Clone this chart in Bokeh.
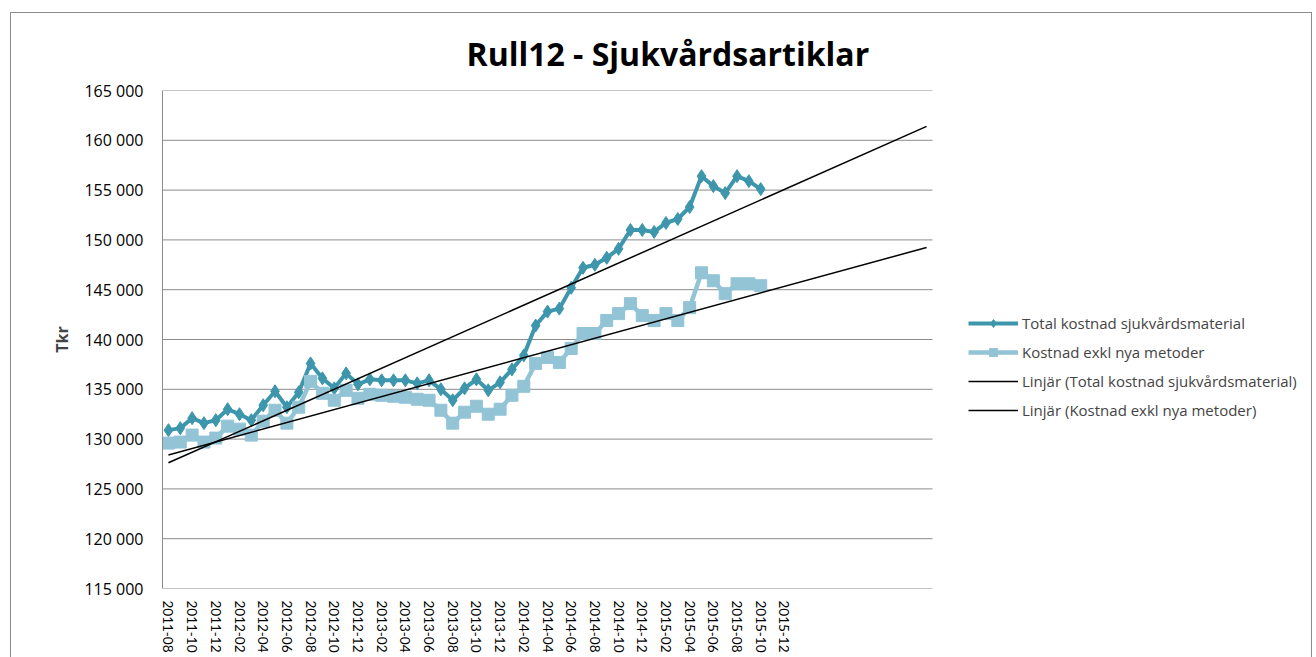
import numpy as np
from bokeh.plotting import figure
from bokeh.models import Range1d, FixedTicker, Legend, LegendItem, Title
from bokeh.embed import file_html
from bokeh.resources import INLINE

# ---- categories (monthly, axis runs to 2016-12; labels shown through 2015-12) ----
months = []
_y, _m = 2011, 8
for _ in range(65):
    months.append(f"{_y}-{_m:02d}")
    _m += 1
    if _m > 12:
        _m = 1
        _y += 1

# ---- series values (Tkr), 2011-08 .. 2015-10 ----
total = [130900, 131100, 132100, 131600, 131900, 133000, 132500, 131900, 133400, 134800,
         133200, 134700, 137600, 136100, 135100, 136600, 135500, 136000, 135900, 135900,
         135900, 135600, 135900, 135000, 133900, 135100, 136000, 134900, 135700, 137000,
         138400, 141400, 142800, 143100, 145200, 147200, 147500, 148200, 149100, 151000,
         151000, 150800, 151700, 152100, 153300, 156400, 155400, 154700, 156400, 155900,
         155100]
exkl = [129600, 129700, 130400, 129700, 130100, 131300, 131000, 130400, 131800, 132900,
        131600, 133200, 135800, 134600, 133900, 134900, 134100, 134500, 134400, 134300,
        134200, 134000, 133900, 132900, 131600, 132700, 133300, 132500, 133000, 134400,
        135300, 137600, 138200, 137700, 139100, 140600, 140600, 141900, 142600, 143600,
        142400, 141900, 142600, 141900, 143200, 146700, 145900, 144600, 145600, 145600,
        145400]

series_names = ["Total kostnad sjukvårdsmaterial", "Kostnad exkl nya metoder"]
y_ticks = list(range(115000, 165001, 5000))
forecast_forward = 14  # trendline extended forward (periods)

TEAL = "#3D96AC"
LIGHT = "#92C4D6"
GRID = "#8C8C8C"
FONT = "Open Sans"

# layout: plot area (axis part) is 770 px wide for the 65 categories; the frame
# continues to the right to host the legend
W, H = 1302, 646
LEFT, RIGHT, TOP, BOTTOM = 151, 2, 77, 71
AXIS_W = 770
frame_w = W - LEFT - RIGHT
n_cat = len(months)
x_end = -0.5 + n_cat * frame_w / AXIS_W

x = np.arange(len(total))

p = figure(width=W, height=H,
           x_range=Range1d(-0.5, x_end),
           y_range=Range1d(y_ticks[0], y_ticks[-1]),
           output_backend="svg", toolbar_location=None, title=None,
           min_border_left=LEFT, min_border_right=RIGHT,
           min_border_top=TOP, min_border_bottom=BOTTOM)
p.styles = {"border": "1px solid #8C8C8C", "margin-left": "10px", "margin-top": "12px"}
p.outline_line_color = None
p.xgrid.visible = False
p.ygrid.visible = False

# horizontal gridlines, only across the category area
p.segment(x0=-0.5, x1=n_cat - 0.5, y0=y_ticks, y1=y_ticks,
          line_color=GRID, line_width=1)

# y axis
p.yaxis.ticker = FixedTicker(ticks=y_ticks)
p.yaxis.major_label_overrides = {t: f"{t:,}".replace(",", " ") for t in y_ticks}
p.yaxis.major_tick_line_color = None
p.yaxis.minor_tick_line_color = None
p.yaxis.axis_line_color = GRID
p.yaxis.major_label_text_font = FONT
p.yaxis.major_label_text_font_size = "16px"
p.yaxis.major_label_text_color = "#000000"
p.yaxis.major_label_standoff = 13
p.yaxis.axis_label = "Tkr"
p.yaxis.axis_label_text_font = FONT
p.yaxis.axis_label_text_font_style = "bold"
p.yaxis.axis_label_text_font_size = "16px"
p.yaxis.axis_label_standoff = 8

# x axis
x_ticks = list(range(0, 53, 2))
p.xaxis.ticker = FixedTicker(ticks=x_ticks)
p.xaxis.major_label_overrides = {i: months[i] for i in x_ticks}
p.xaxis.major_label_orientation = "vertical"
p.xaxis.major_tick_line_color = None
p.xaxis.minor_tick_line_color = None
p.xaxis.axis_line_color = None
p.xaxis.major_label_text_font = "Lato"
p.xaxis.major_label_text_font_size = "13.5px"
p.xaxis.major_label_text_color = "#000000"
p.xaxis.major_label_standoff = 6

# series
r1 = p.line(x, total, line_color=TEAL, line_width=4)
s1 = p.scatter(x, total, marker="diamond", size=13, fill_color=TEAL, line_color=TEAL)
r2 = p.line(x, exkl, line_color=LIGHT, line_width=4.5)
s2 = p.scatter(x, exkl, marker="square", size=12, fill_color=LIGHT, line_color=LIGHT)

# linear trendlines (least squares, extended forward)
xt = np.array([0, len(total) - 1 + forecast_forward])
k1, m1 = np.polyfit(x, total, 1)
k2, m2 = np.polyfit(x, exkl, 1)
t1 = p.line(xt, k1 * xt + m1, line_color="black", line_width=1.5)
t2 = p.line(xt, k2 * xt + m2, line_color="black", line_width=1.5)

legend = Legend(items=[
    LegendItem(label=series_names[0], renderers=[r1, s1]),
    LegendItem(label=series_names[1], renderers=[r2, s2]),
    LegendItem(label=f"Linjär ({series_names[0]})", renderers=[t1]),
    LegendItem(label=f"Linjär ({series_names[1]})", renderers=[t2]),
], location=(806, 168), glyph_width=50, glyph_height=20, label_height=20,
    spacing=9, padding=0, margin=0, label_standoff=4,
    border_line_color=None, background_fill_alpha=0,
    label_text_font=FONT, label_text_font_size="15px")
p.add_layout(legend, "center")

p.add_layout(Title(text="Rull12 - Sjukvårdsartiklar", align="left", offset=304,
                   standoff=32, text_font=FONT, text_font_style="bold",
                   text_font_size="32px", text_color="#000000"), "above")

open("out.html", "w").write(file_html(p, INLINE))
